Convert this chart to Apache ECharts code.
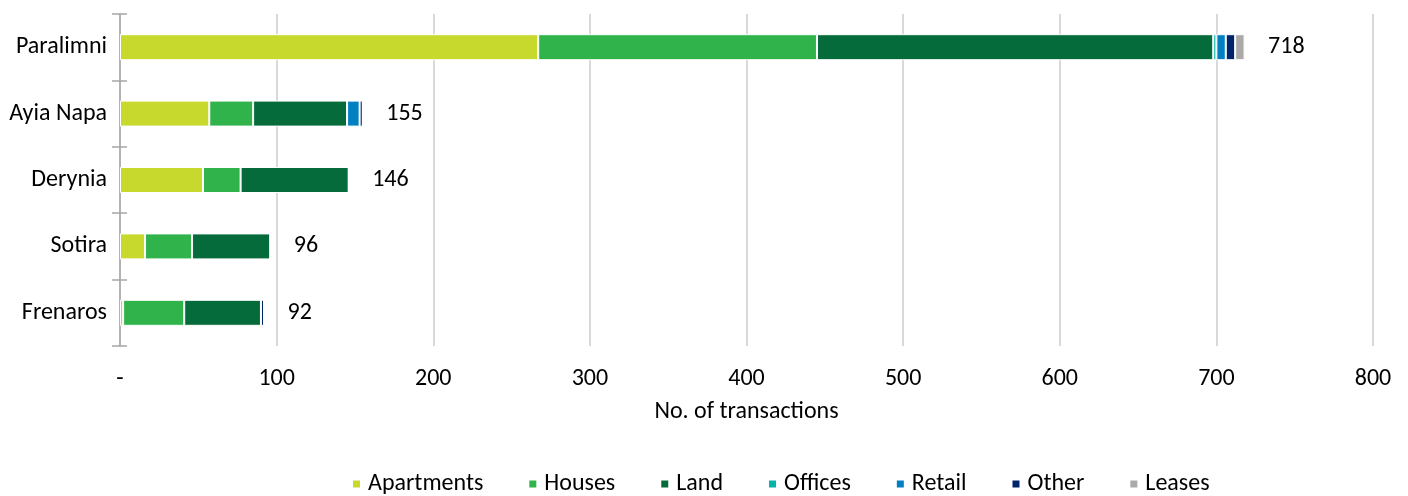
<!DOCTYPE html>
<html>
<head>
<meta charset="utf-8">
<script src="https://cdn.jsdelivr.net/npm/echarts@6/dist/echarts.min.js"></script>
<style>
  html, body { margin: 0; padding: 0; background: #fff; }
  #chart { width: 1408px; height: 496px; }
</style>
</head>
<body>
<div id="chart"></div>
<script>
// Transactions by area, split by property type
const areas = ['Paralimni', 'Ayia Napa', 'Derynia', 'Sotira', 'Frenaros'];
const apartments = [267, 57, 53, 16, 2];
const houses     = [178, 28, 24, 30, 39];
const land       = [253, 60, 69, 50, 49];
const offices    = [2, 0, 0, 0, 0];
const retail     = [6, 8, 0, 0, 0];
const other      = [6, 2, 0, 0, 2];
const leases     = [6, 0, 0, 0, 0];
const totals     = [718, 155, 146, 96, 92];
const xTicks = [0, 100, 200, 300, 400, 500, 600, 700, 800];

const FONT = 'Carlito, Calibri, "Liberation Sans", "Noto Sans", sans-serif';
const FS = 24;

const typeSeries = [
  { name: 'Apartments', data: apartments, color: '#C8D92E' },
  { name: 'Houses',     data: houses,     color: '#2FB34A' },
  { name: 'Land',       data: land,       color: '#066B3A' },
  { name: 'Offices',    data: offices,    color: '#00B2A9' },
  { name: 'Retail',     data: retail,     color: '#0080C0' },
  { name: 'Other',      data: other,      color: '#002469' },
  { name: 'Leases',     data: leases,     color: '#ACA9A9' }
];

const chart = echarts.init(document.getElementById('chart'));

const series = typeSeries.map(s => ({
  name: s.name,
  type: 'bar',
  stack: 'total',
  barWidth: 26,
  data: s.data,
  itemStyle: { color: s.color, borderColor: '#ffffff', borderWidth: 1 },
  emphasis: { disabled: true }
}));

// total labels to the right of each bar
series.push({
  name: 'Total',
  type: 'scatter',
  data: totals.map((v, i) => [v, areas[i]]),
  symbolSize: 1,
  itemStyle: { color: 'rgba(255,255,255,0)' },
  label: {
    show: true,
    position: 'right',
    distance: 23,
    color: '#000000',
    opacity: 1,
    fontFamily: FONT,
    fontSize: FS,
    formatter: p => p.value[0]
  },
  emphasis: { disabled: true },
  silent: true
});

const axisGrey = '#A6A6A6';

chart.setOption({
  animation: false,
  textStyle: { fontFamily: FONT },
  grid: { left: 120, right: 35, top: 14, bottom: 150, containLabel: false },
  legend: {
    data: typeSeries.map(s => s.name),
    top: 467,
    left: 346,
    icon: 'rect',
    itemWidth: 9,
    itemHeight: 9,
    itemGap: 44,
    textStyle: { fontFamily: FONT, fontSize: FS, color: '#000', padding: [0, 0, 0, 2] }
  },
  xAxis: {
    type: 'value',
    min: xTicks[0],
    max: xTicks[xTicks.length - 1],
    interval: 100,
    name: 'No. of transactions',
    nameLocation: 'middle',
    nameGap: 54,
    nameTextStyle: { fontFamily: FONT, fontSize: FS, color: '#000' },
    axisLine: { show: false },
    axisTick: { show: false },
    splitLine: { show: true, lineStyle: { color: '#D9D9D9', width: 2 } },
    axisLabel: {
      margin: 21,
      fontFamily: FONT,
      fontSize: FS,
      color: '#000',
      formatter: v => (v === 0 ? '-' : String(v))
    }
  },
  yAxis: [
    {
      type: 'category',
      data: areas,
      inverse: true,
      axisLine: { show: true, lineStyle: { color: axisGrey, width: 1.5 } },
      axisTick: { show: true, length: 8, lineStyle: { color: axisGrey, width: 1.5 } },
      axisLabel: { margin: 13, fontFamily: FONT, fontSize: FS, color: '#000' },
      splitLine: { show: false }
    },
    {
      // inner half of the cross ticks on the category axis
      type: 'category',
      data: areas,
      inverse: true,
      position: 'left',
      axisLine: { show: false },
      axisTick: { show: true, inside: true, length: 7, lineStyle: { color: axisGrey, width: 1.5 } },
      axisLabel: { show: false },
      splitLine: { show: false }
    }
  ],
  series: series
});
</script>
</body>
</html>
